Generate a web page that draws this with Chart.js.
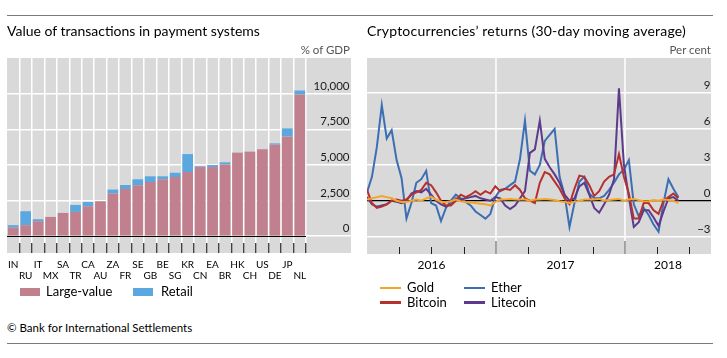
<!DOCTYPE html>
<html><head><meta charset="utf-8">
<script src="https://cdn.jsdelivr.net/npm/chart.js@4.4.1/dist/chart.umd.min.js"></script>
<style>
body{margin:0;width:727px;height:358px;background:#fff;font-family:Lato,"Open Sans",sans-serif;position:relative;overflow:hidden;color:#000}
.t{position:absolute;white-space:nowrap;line-height:1}
canvas{position:absolute;top:0}
.rule{position:absolute;left:7px;width:706px;height:0;border-top:1px solid #7a7a7a}
.sw{position:absolute;width:20px;height:8px}
.ln{position:absolute;width:21px;height:2.5px}
</style></head><body>
<div class="rule" style="top:15px"></div>
<div class="rule" style="top:343px"></div>
<canvas id="left" width="360" height="300" style="left:0"></canvas>
<canvas id="right" width="367" height="300" style="left:360px"></canvas>
<div class="t" style="left:7px;top:24.3px;font-size:14px">Value of transactions in payment systems</div>
<div class="t" style="left:367px;top:24.3px;font-size:14px;letter-spacing:0.2px">Cryptocurrencies’ returns (30-day moving average)</div>
<div class="t" style="right:377px;top:43.8px;font-size:11.5px;color:#555">% of GDP</div>
<div class="t" style="right:16px;top:43.8px;font-size:11.5px;color:#555">Per cent</div>
<div class="sw" style="left:20px;top:288px;background:#c0808e"></div>
<div class="t" style="left:46px;top:284.5px;font-size:13px">Large-value</div>
<div class="sw" style="left:133px;top:288px;background:#5ba8e0"></div>
<div class="t" style="left:161px;top:284.5px;font-size:13px">Retail</div>
<div class="ln" style="left:380px;top:286.5px;background:#f5a524"></div>
<div class="t" style="left:407px;top:280.8px;font-size:13px">Gold</div>
<div class="ln" style="left:464px;top:286.5px;background:#3c6eb4"></div>
<div class="t" style="left:491px;top:280.8px;font-size:13px">Ether</div>
<div class="ln" style="left:380px;top:301px;background:#b5302f"></div>
<div class="t" style="left:407px;top:295.8px;font-size:13px">Bitcoin</div>
<div class="ln" style="left:464px;top:301px;background:#5e3a8d"></div>
<div class="t" style="left:491px;top:295.8px;font-size:13px">Litecoin</div>
<div class="t" style="left:7px;top:321.5px;font-size:11.5px">© Bank for International Settlements</div>
<script>
// ---- Left panel data ----
const countries = ['IN','RU','IT','MX','SA','TR','CA','AU','ZA','FR','SE','GB','BE','SG','KR','CN','EA','BR','HK','CH','US','DE','JP','NL'];
const largeValue = [600,770,1050,1350,1630,1700,2100,2450,2990,3310,3570,3800,3990,4150,4500,4850,4850,5020,5860,5930,6090,6420,7000,9940];
const retail = [170,980,140,0,0,490,300,0,280,280,420,400,210,300,1260,50,140,160,0,0,0,90,560,280];
const leftTicks = [0,2500,5000,7500,10000];
const leftTickLabels = ['0','2,500','5,000','7,500','10,000'];

// ---- Right panel data (bi-weekly 30-day moving averages, per cent) ----
const dates = ['2016-01-01','2016-01-15','2016-01-29','2016-02-12','2016-02-26','2016-03-11','2016-03-25','2016-04-08','2016-04-22','2016-05-06','2016-05-20','2016-06-03','2016-06-17','2016-07-01','2016-07-15','2016-07-29','2016-08-12','2016-08-26','2016-09-09','2016-09-23','2016-10-07','2016-10-21','2016-11-04','2016-11-18','2016-12-02','2016-12-16','2016-12-30','2017-01-13','2017-01-27','2017-02-10','2017-02-24','2017-03-10','2017-03-24','2017-04-07','2017-04-21','2017-05-05','2017-05-19','2017-06-02','2017-06-16','2017-06-30','2017-07-14','2017-07-28','2017-08-11','2017-08-25','2017-09-08','2017-09-22','2017-10-06','2017-10-20','2017-11-03','2017-11-17','2017-12-01','2017-12-15','2017-12-29','2018-01-12','2018-01-26','2018-02-09','2018-02-23','2018-03-09','2018-03-23','2018-04-06','2018-04-20','2018-05-04','2018-05-18','2018-06-01'];
const gold = [0.1,0.2,0.3,0.4,0.3,0.2,0.0,-0.1,-0.1,0.0,0.1,0.0,0.2,0.35,0.1,-0.1,-0.1,-0.05,0.1,-0.05,-0.1,-0.15,-0.2,-0.25,-0.3,-0.4,-0.1,0.1,0.1,0.15,0.1,0.1,0.1,0.0,0.1,0.1,0.15,0.1,0.05,-0.05,-0.1,-0.2,-0.1,0.0,0.1,0.1,0.1,0.15,0.0,0.05,0.1,0.15,0.0,0.1,0.15,0.05,-0.05,-0.05,0.05,0.0,0.1,0.05,0.0,-0.2];
const bitcoin = [0.9,-0.2,-0.6,-0.5,-0.3,0.0,0.1,0.0,0.1,0.5,0.7,0.9,1.5,1.3,0.7,0.0,-0.4,-0.4,0.0,0.5,0.3,0.5,0.8,0.5,0.8,0.6,1.2,0.8,1.0,0.9,1.3,0.9,0.2,0.0,-0.2,1.5,2.4,2.2,1.6,1.0,0.2,-0.3,1.0,2.1,2.0,1.3,0.4,0.8,1.6,2.0,2.2,3.9,2.0,0.6,-1.5,-1.5,-0.2,-0.2,-0.8,-1.1,0.0,0.3,0.6,0.2];
const ether = [0.7,2.0,4.5,8.0,5.2,5.9,3.4,1.9,-1.5,-0.2,1.5,1.8,2.5,-0.2,-0.4,-1.7,-0.6,0.0,0.5,0.2,-0.1,-0.4,-0.9,-1.2,-1.5,-1.1,0.3,0.9,1.0,1.3,1.6,3.5,6.7,2.5,2.2,3.0,5.0,5.5,6.0,2.0,0.5,-2.2,-0.2,1.6,2.0,0.6,0.2,0.2,0.4,0.9,1.5,2.2,2.6,3.4,-0.3,-1.3,-0.6,-1.2,-2.0,-2.6,-0.2,1.8,1.0,0.3];
const litecoin = [0.3,-0.3,-0.5,-0.4,-0.3,0.0,-0.1,-0.2,0.0,0.6,0.8,0.7,1.0,0.5,0.0,-0.3,-0.5,-0.3,0.2,0.1,0.2,0.3,0.4,0.2,0.1,0.0,0.3,0.2,-0.4,-0.7,-0.4,0.2,0.8,4.0,4.3,6.7,3.5,2.8,2.2,1.5,0.5,0.0,0.2,1.2,1.5,0.5,-0.6,-1.0,-0.3,0.5,1.8,9.4,3.0,0.3,-2.2,-1.8,-0.8,-0.8,-1.4,-2.1,-0.9,0.2,0.3,0.0];
const rightTicks = [-3,0,3,6,9];
const rightTickLabels = ['−3','0','3','6','9'];
const yearLabels = ['2016','2017','2018'];
const yearLabelPos = [2016.5,2017.5,2018.333];
const yearLines = [2017,2018];
const quarterTicks = [2016.25,2016.5,2016.75,2017.25,2017.5,2017.75,2018.25,2018.5];

function toYear(s){const [y,m,d]=s.split('-').map(Number);const a=Date.UTC(y,0,1),b=Date.UTC(y+1,0,1);return y+(Date.UTC(y,m-1,d)-a)/(b-a);}
const xs = dates.map(toYear);
const pts = arr => arr.map((v,i)=>({x:xs[i],y:v}));

const GRAY='#d9d9d9';
const FONT='Lato, "Open Sans", sans-serif';
const bgPlugin={id:'bg',beforeDraw(c,a,o){const {ctx,chartArea:ca}=c;ctx.save();ctx.fillStyle=GRAY;
  const r=o.right!=null?o.right:ca.right, b=o.bottom!=null?o.bottom:ca.bottom;
  ctx.fillRect(ca.left,ca.top,r-ca.left,b-ca.top);
  if(o.vlines){ctx.strokeStyle='#fff';ctx.lineWidth=1.5;const x=c.scales.x;
    o.vlines.forEach(v=>{const p=x.getPixelForValue(v);ctx.beginPath();ctx.moveTo(p,ca.top);ctx.lineTo(p,ca.bottom);ctx.stroke();});}
  ctx.restore();}};
const ylabPlugin={id:'ylab',afterDraw(c,a,o){const {ctx}=c;const y=c.scales.y;ctx.save();ctx.font='11.5px '+FONT;ctx.fillStyle='#1a1a1a';ctx.textAlign='right';ctx.textBaseline='middle';
  o.values.forEach((v,i)=>{ctx.fillText(o.labels[i],o.x,y.getPixelForValue(v)+o.dy);});ctx.restore();}};
const zeroPlugin={id:'zero',afterDatasetsDraw(c){const {ctx,chartArea:ca}=c;const p=Math.round(c.scales.y.getPixelForValue(0))+0.5;ctx.save();ctx.strokeStyle='#000';ctx.lineWidth=1.2;ctx.beginPath();ctx.moveTo(ca.left,p);ctx.lineTo(ca.right,p);ctx.stroke();ctx.restore();}};
const qtickPlugin={id:'qtick',afterDraw(c){const {ctx,chartArea:ca}=c;const x=c.scales.x;ctx.save();ctx.lineWidth=1;
  ctx.strokeStyle='#222';quarterTicks.forEach(v=>{const p=Math.round(x.getPixelForValue(v))+0.5;ctx.beginPath();ctx.moveTo(p,ca.bottom-7);ctx.lineTo(p,ca.bottom);ctx.stroke();});
  ctx.strokeStyle='#888';ctx.lineWidth=1.5;yearLines.forEach(v=>{const p=x.getPixelForValue(v);ctx.beginPath();ctx.moveTo(p,ca.bottom-13);ctx.lineTo(p,ca.bottom);ctx.stroke();});
  ctx.restore();}};

new Chart(document.getElementById('left'),{
  type:'bar',
  data:{labels:countries,datasets:[
    {label:'Large-value',data:largeValue,backgroundColor:'#c0808e',barPercentage:0.86,categoryPercentage:1},
    {label:'Retail',data:retail,backgroundColor:'#5ba8e0',barPercentage:0.86,categoryPercentage:1}
  ]},
  options:{responsive:false,animation:false,devicePixelRatio:1,
    layout:{padding:{left:7,top:58,right:9,bottom:12}},
    plugins:{legend:{display:false},tooltip:{enabled:false},
      bg:{right:351,bottom:253},
      ylab:{values:leftTicks,labels:leftTickLabels,x:349.5,dy:-7.5}},
    scales:{
      x:{stacked:true,offset:true,border:{display:false},
        grid:{offset:true,color:c=>c.index===0?'rgba(0,0,0,0)':'#fff',lineWidth:1.5,drawTicks:true,tickLength:10,
          tickColor:c=>c.index===0?'rgba(0,0,0,0)':'#111',tickWidth:1},
        ticks:{autoSkip:false,maxRotation:0,minRotation:0,padding:6,color:'#000',font:{family:FONT,size:10,lineHeight:1.1},
          callback:(v,i)=>i%2===0?[countries[i],'']:['',countries[i]]},
        afterFit(s){s.height=45;}},
      y:{stacked:true,position:'right',min:-480,max:12500,border:{display:false},
        afterBuildTicks(s){s.ticks=leftTicks.map(v=>({value:v}));},
        grid:{color:c=>(c.tick&&c.tick.value===0)?'rgba(0,0,0,0)':'#fff',lineWidth:1.5,drawTicks:true,tickLength:45,tickColor:'#fff',tickWidth:1.5},
        ticks:{display:false},
        afterFit(s){s.width=45;}}
    }},
  plugins:[bgPlugin,ylabPlugin,zeroPlugin]
});

const lineDs=(label,arr,color)=>({label,data:pts(arr),borderColor:color,backgroundColor:color,borderWidth:2,pointRadius:0,tension:0,fill:false});
new Chart(document.getElementById('right'),{
  type:'line',
  data:{datasets:[
    lineDs('Gold',gold,'#f5a524'),
    lineDs('Bitcoin',bitcoin,'#b5302f'),
    lineDs('Litecoin',litecoin,'#5e3a8d'),
    lineDs('Ether',ether,'#3c6eb4')
  ]},
  options:{responsive:false,animation:false,devicePixelRatio:1,
    layout:{padding:{left:7,top:58,right:16,bottom:16}},
    plugins:{legend:{display:false},tooltip:{enabled:false},
      bg:{vlines:yearLines},
      ylab:{values:rightTicks,labels:rightTickLabels,x:350.5,dy:-7.5}},
    scales:{
      x:{type:'linear',min:2016,max:2018.667,border:{display:false},
        afterBuildTicks(s){s.ticks=yearLabelPos.map(v=>({value:v}));},
        grid:{display:false,drawTicks:false},
        ticks:{autoSkip:false,maxRotation:0,padding:4,color:'#000',font:{family:FONT,size:12},callback:(v,i)=>yearLabels[i]},
        afterFit(s){s.height=30;}},
      y:{position:'right',min:-4.46,max:11.94,border:{display:false},
        afterBuildTicks(s){s.ticks=rightTicks.map(v=>({value:v}));},
        grid:{color:c=>(c.tick&&c.tick.value===0)?'#000':'#fff',lineWidth:c=>(c.tick&&c.tick.value===0)?1.2:1.5,drawTicks:false},
        ticks:{display:false},
        afterFit(s){s.width=0;}}
    }},
  plugins:[bgPlugin,ylabPlugin,qtickPlugin]
});
</script>
</body></html>
